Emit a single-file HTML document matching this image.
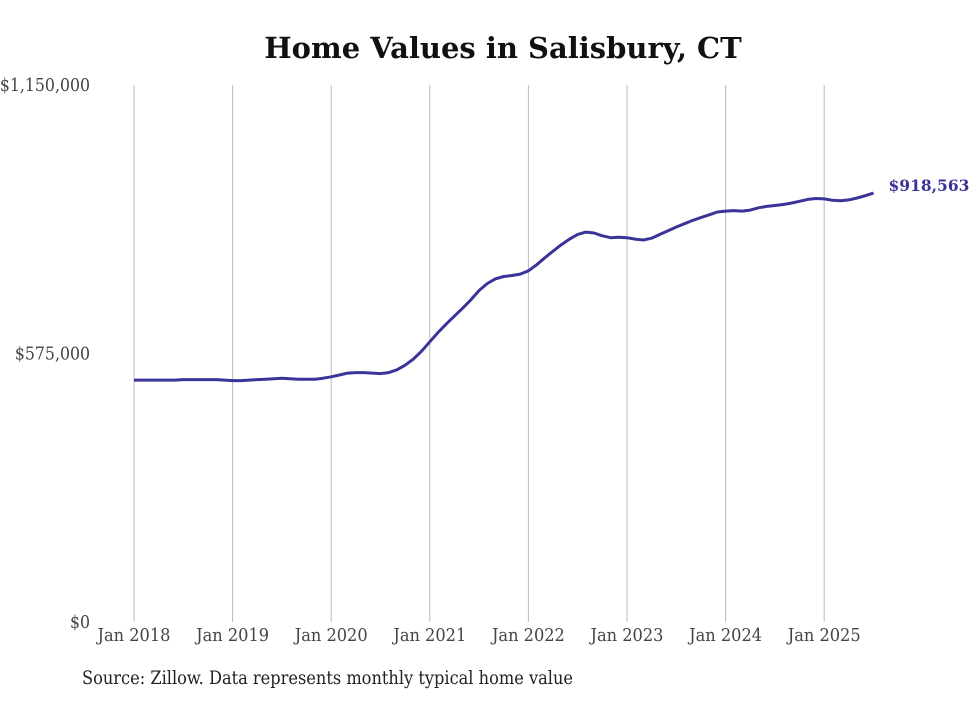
<!DOCTYPE html>
<html><head><meta charset="utf-8">
<style>
html,body{margin:0;padding:0;background:#fff;}
body{width:980px;height:699px;overflow:hidden;}
.cond{font-family:"DejaVu Serif Condensed","DejaVu Serif","Liberation Serif",serif;font-stretch:condensed;}
</style></head>
<body>
<svg width="980" height="699" viewBox="0 0 980 699" xmlns="http://www.w3.org/2000/svg">
<text x="503" y="58" text-anchor="middle" font-family="'DejaVu Serif','Liberation Serif',serif" font-weight="bold" font-size="29" fill="#111">Home Values in Salisbury, CT</text>
<g id="grid"></g>
<g id="yticks"></g>
<g id="xticks"></g>
<path id="line" fill="none" stroke="#3b3498" stroke-width="3" stroke-linejoin="round"/>
<text id="endlabel" font-family="'DejaVu Serif','Liberation Serif',serif" font-weight="bold" font-size="15.5" fill="#3b3498"></text>
<text class="cond" x="82" y="684" font-size="19" textLength="491" lengthAdjust="spacingAndGlyphs" fill="#222">Source: Zillow. Data represents monthly typical home value</text>
</svg>
<script>
const years = ["Jan 2018","Jan 2019","Jan 2020","Jan 2021","Jan 2022","Jan 2023","Jan 2024","Jan 2025"];
const yTickValues = [0, 575000, 1150000];
const yTickLabels = ["$0","$575,000","$1,150,000"];
const values = [
518,518,518,518,518,518,519,519,519,519,519,518,
517,517,518,519,520,521,522,521,520,520,520,522,
525,529,533,534,534,533,532,534,540,550,563,580,
600,620,638,655,672,690,710,725,735,740,742,745,
752,765,780,794,808,820,830,835,833,827,823,824,
823,820,818,822,830,838,846,853,860,866,872,878,
880,881,880,882,887,890,892,894,897,901,905,907,
906,903,902,904,908,913,918.563
].map(v=>v*1000);
const endLabel = "$918,563";

const NS="http://www.w3.org/2000/svg";
const x0=134, perYear=98.6, yTop=85, yBot=622, yMax=1150000;
const xScale = m => x0 + m*perYear/12;
const yScale = v => yBot - v/yMax*(yBot-yTop);
function mk(tag, attrs, parent){const e=document.createElementNS(NS,tag);for(const k in attrs)e.setAttribute(k,attrs[k]);document.getElementById(parent).appendChild(e);return e;}
years.forEach((lab,i)=>{
  const x=xScale(i*12);
  const l=mk('line',{x1:x,x2:x,y1:yTop,y2:yBot,stroke:'#bbb','stroke-width':1},'grid');
  
  
  const t=mk('text',{x:x,y:641,'text-anchor':'middle','class':'cond','font-size':18,fill:'#444'},'xticks');
  t.textContent=lab;
  
  
});
yTickValues.forEach((v,i)=>{
  const t=mk('text',{x:90,y:yScale(v)+6,'text-anchor':'end','class':'cond','font-size':17.5,fill:'#444'},'yticks');
  t.textContent=yTickLabels[i];
  
  
});
let d='';
values.forEach((v,i)=>{d+=(i?'L':'M')+xScale(i).toFixed(1)+','+yScale(v).toFixed(1);});
document.getElementById('line').setAttribute('d',d);
const n=values.length-1;
const el=document.getElementById('endlabel');
el.setAttribute('x',xScale(n)+15);
el.setAttribute('y',yScale(values[n])-2);
el.textContent=endLabel;
</script>
</body></html>
